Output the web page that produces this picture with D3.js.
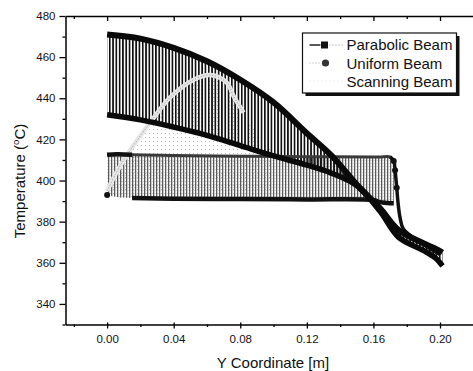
<!DOCTYPE html>
<html>
<head>
<meta charset="utf-8">
<script src="https://cdnjs.cloudflare.com/ajax/libs/d3/7.8.5/d3.min.js"></script>
<style>
  html, body { margin: 0; padding: 0; background: #fff; }
  svg { display: block; font-family: 'Liberation Sans', Arial, sans-serif; }
</style>
</head>
<body>
<div id="chart"></div>
<script>
// values (Y coordinate in m, temperature in °C)
var parabolicX     = [0.000, 0.020, 0.040, 0.060, 0.080, 0.100, 0.120, 0.135, 0.150, 0.164, 0.175, 0.190, 0.197, 0.2015];
var parabolicUpper = [471, 469, 464.5, 458, 449, 438, 423, 412, 398, 386.5, 376, 369.5, 367, 365];
var parabolicLower = [432, 429.5, 426, 422, 417, 412, 407.5, 403.5, 397.5, 385, 372.5, 366, 362.5, 358.5];

var uniformX      = [0.000, 0.006, 0.015, 0.040, 0.080, 0.120, 0.160, 0.164, 0.170, 0.1722];
var uniformTop    = [412.5, 412.8, 412.5, 412.2, 411.8, 411.6, 411.5, 411.5, 411.5, 409.5];
var uniformBottom = [393, 392, 391.5, 391.2, 391, 390.8, 390.5, 389.5, 389, 389];
var uniformTailX  = [0.1700, 0.1722, 0.1730, 0.1740, 0.1748, 0.1760, 0.1780, 0.1900, 0.2000];
var uniformTail   = [411.5, 409.5, 405, 396.5, 389, 382, 376.5, 369, 364];

var scanX      = [0.000, 0.005, 0.010, 0.018, 0.027, 0.038, 0.052, 0.062, 0.072, 0.076, 0.082, 0.090, 0.100];
var scanTop    = [395, 403, 410, 419.5, 429.5, 440.5, 449, 451.3, 447.5, 441, 433, 423, 413];
var scanBottom = [393, 392.5, 392, 392, 391.5, 391.5, 391.2, 391.2, 391, 391, 391, 391, 391];

var xMajor = [0.00, 0.04, 0.08, 0.12, 0.16, 0.20];
var xMinor = [-0.02, 0.02, 0.06, 0.10, 0.14, 0.18, 0.22];
var yMajor = [340, 360, 380, 400, 420, 440, 460, 480];
var yMinor = [330, 350, 370, 390, 410, 430, 450, 470];

var legendItems = ['Parabolic Beam', 'Uniform Beam', 'Scanning Beam'];

var W = 473, H = 371;

var svg = d3.select('#chart').append('svg')
  .attr('width', W)
  .attr('height', H);

var x = d3.scaleLinear().domain([-0.025, 0.22]).range([65.5, 473.3]);
var y = d3.scaleLinear().domain([330, 480]).range([324.5, 16]);

// hatch patterns for the densely oscillating data
var defs = svg.append('defs');
var pPara = defs.append('pattern').attr('id', 'hatchPara')
  .attr('patternUnits', 'userSpaceOnUse').attr('width', 3.3).attr('height', 4);
pPara.append('rect').attr('width', 1.7).attr('height', 4).attr('fill', '#111');

var pUni = defs.append('pattern').attr('id', 'hatchUni')
  .attr('patternUnits', 'userSpaceOnUse').attr('width', 3).attr('height', 3);
pUni.append('rect').attr('width', 1.3).attr('height', 3).attr('fill', '#5a5a5a');
pUni.append('rect').attr('x', 1.8).attr('y', 1).attr('width', 0.8).attr('height', 0.8).attr('fill', '#aaa');

var pScan = defs.append('pattern').attr('id', 'dotsScan')
  .attr('patternUnits', 'userSpaceOnUse').attr('width', 4).attr('height', 4);
pScan.append('rect').attr('x', 1).attr('y', 1).attr('width', 0.9).attr('height', 0.9).attr('fill', '#aaa');

function band(xs, lo, hi) {
  return xs.map(function(v, i) { return { x: v, lo: lo[i], hi: hi[i] }; });
}
function pts(xs, ys) {
  return xs.map(function(v, i) { return { x: v, y: ys[i] }; });
}

var curve = d3.curveCatmullRom.alpha(0.5);

var area = d3.area()
  .x(function(d) { return x(d.x); })
  .y0(function(d) { return y(d.lo); })
  .y1(function(d) { return y(d.hi); })
  .curve(curve);

var line = d3.line()
  .x(function(d) { return x(d.x); })
  .y(function(d) { return y(d.y); })
  .curve(curve);

var plot = svg.append('g');

// Scanning beam fill (sparse dots)
plot.append('path')
  .attr('d', area(band(scanX, scanBottom, scanTop)))
  .attr('fill', 'url(#dotsScan)');

// Uniform beam band
plot.append('path')
  .attr('d', area(band(uniformX, uniformBottom, uniformTop)))
  .attr('fill', 'url(#hatchUni)');

// Parabolic beam band
plot.append('path')
  .attr('d', area(band(parabolicX, parabolicLower, parabolicUpper)))
  .attr('fill', 'url(#hatchPara)');

// Scanning beam envelope (light stippled arc), visible part only
var scanEdge = pts(scanX, scanTop).slice(0, 11);
plot.append('path')
  .attr('d', line(scanEdge))
  .attr('fill', 'none')
  .attr('stroke', '#e6e6e6')
  .attr('stroke-width', 4.5);
plot.append('path')
  .attr('d', line(scanEdge))
  .attr('fill', 'none')
  .attr('stroke', '#9a9a9a')
  .attr('stroke-width', 1)
  .attr('stroke-dasharray', '1,2');

// Uniform beam envelopes
plot.append('path')
  .attr('d', line(pts(uniformX, uniformTop)))
  .attr('fill', 'none')
  .attr('stroke', '#3a3a3a')
  .attr('stroke-width', 3);
plot.append('path')
  .attr('d', line(pts(uniformX.slice(0, 3), uniformTop.slice(0, 3))))
  .attr('fill', 'none')
  .attr('stroke', '#111')
  .attr('stroke-width', 4.5);
plot.append('path')
  .attr('d', line(pts(uniformX.slice(2), uniformBottom.slice(2))))
  .attr('fill', 'none')
  .attr('stroke', '#111')
  .attr('stroke-width', 4.5);
plot.append('path')
  .attr('d', line(pts(uniformTailX, uniformTail)))
  .attr('fill', 'none')
  .attr('stroke', '#111')
  .attr('stroke-width', 3.5);

// Parabolic beam envelopes
plot.append('path')
  .attr('d', line(pts(parabolicX, parabolicUpper)))
  .attr('fill', 'none')
  .attr('stroke', '#0a0a0a')
  .attr('stroke-width', 6);
plot.append('path')
  .attr('d', line(pts(parabolicX, parabolicLower)))
  .attr('fill', 'none')
  .attr('stroke', '#0a0a0a')
  .attr('stroke-width', 5.5);

// Uniform beam circle markers
var uniMarks = pts(uniformTailX, uniformTail).slice(1, 4)
  .concat([{ x: uniformX[0], y: uniformBottom[0] }]);
plot.selectAll('circle.uni')
  .data(uniMarks)
  .enter().append('circle')
  .attr('class', 'uni')
  .attr('cx', function(d) { return x(d.x); })
  .attr('cy', function(d) { return y(d.y); })
  .attr('r', 3)
  .attr('fill', '#111');

// Axes
function styleAxis(g) {
  g.selectAll('path.domain').attr('stroke', '#000').attr('stroke-width', 1.5);
  g.selectAll('line').attr('stroke', '#000').attr('stroke-width', 1.3);
  g.selectAll('text')
    .attr('fill', '#111')
    .style('font-size', '11.5px')
    .style('font-family', "'Liberation Sans', Arial, sans-serif");
}

var gxB = svg.append('g').attr('transform', 'translate(0,' + y(330) + ')')
  .call(d3.axisBottom(x).tickValues(xMajor).tickSizeInner(4).tickSizeOuter(0)
    .tickPadding(6.5).tickFormat(d3.format('.2f')))
  .call(styleAxis);
gxB.selectAll('.tick line').attr('y1', -2);
svg.append('g').attr('transform', 'translate(0,' + y(330) + ')')
  .call(d3.axisBottom(x).tickValues(xMinor).tickSize(2.5).tickFormat(''))
  .call(styleAxis)
  .select('path.domain').remove();

svg.append('g').attr('transform', 'translate(0,' + y(480) + ')')
  .call(d3.axisTop(x).tickValues(xMajor).tickSizeInner(-5).tickSizeOuter(0).tickFormat(''))
  .call(styleAxis);
svg.append('g').attr('transform', 'translate(0,' + y(480) + ')')
  .call(d3.axisTop(x).tickValues(xMinor).tickSize(-3).tickFormat(''))
  .call(styleAxis)
  .select('path.domain').remove();

svg.append('g').attr('transform', 'translate(' + x(-0.025) + ',0)')
  .call(d3.axisLeft(y).tickValues(yMajor).tickSizeInner(6).tickSizeOuter(0).tickPadding(4))
  .call(styleAxis);
svg.append('g').attr('transform', 'translate(' + x(-0.025) + ',0)')
  .call(d3.axisLeft(y).tickValues(yMinor).tickSize(3).tickFormat(''))
  .call(styleAxis)
  .select('path.domain').remove();

// Axis titles
svg.append('text')
  .attr('x', 273)
  .attr('y', 368)
  .attr('text-anchor', 'middle')
  .attr('fill', '#111')
  .style('font-size', '15px')
  .text('Y Coordinate [m]');

var yt = svg.append('text')
  .attr('transform', 'translate(25,181) rotate(-90)')
  .attr('text-anchor', 'middle')
  .attr('fill', '#111')
  .style('font-size', '15px');
yt.append('tspan').text('Temperature (');
yt.append('tspan').attr('dy', -6).style('font-size', '9.5px').text('o');
yt.append('tspan').attr('dy', 6).text('C)');

// Legend
var lg = svg.append('g').attr('transform', 'translate(302.5,33)');
lg.append('rect').attr('x', 3).attr('y', 3).attr('width', 154).attr('height', 60).attr('fill', '#111');
lg.append('rect').attr('width', 154).attr('height', 60)
  .attr('fill', '#fff').attr('stroke', '#111').attr('stroke-width', 1.2);

lg.selectAll('text.lg')
  .data(legendItems)
  .enter().append('text')
  .attr('class', 'lg')
  .attr('x', 44)
  .attr('y', function(d, i) { return 17 + i * 18.5; })
  .attr('fill', '#111')
  .style('font-size', '15px')
  .text(function(d) { return d; });

// Parabolic symbol: line + square
lg.append('line').attr('x1', 7).attr('x2', 18).attr('y1', 12).attr('y2', 12)
  .attr('stroke', '#222').attr('stroke-width', 1.5);
lg.append('rect').attr('x', 18.5).attr('y', 8.5).attr('width', 7).attr('height', 7).attr('fill', '#111');
lg.append('line').attr('x1', 27).attr('x2', 40).attr('y1', 12).attr('y2', 12)
  .attr('stroke', '#999').attr('stroke-width', 1).attr('stroke-dasharray', '1,2');
// Uniform symbol: dotted line + circle
lg.append('line').attr('x1', 7).attr('x2', 19).attr('y1', 30).attr('y2', 30)
  .attr('stroke', '#aaa').attr('stroke-width', 1).attr('stroke-dasharray', '1,2');
lg.append('circle').attr('cx', 23).attr('cy', 30).attr('r', 3.6).attr('fill', '#333');
// Scanning symbol: faint dots
lg.append('line').attr('x1', 7).attr('x2', 40).attr('y1', 48).attr('y2', 48)
  .attr('stroke', '#e2e2e2').attr('stroke-width', 1).attr('stroke-dasharray', '1,3');
</script>
</body>
</html>
